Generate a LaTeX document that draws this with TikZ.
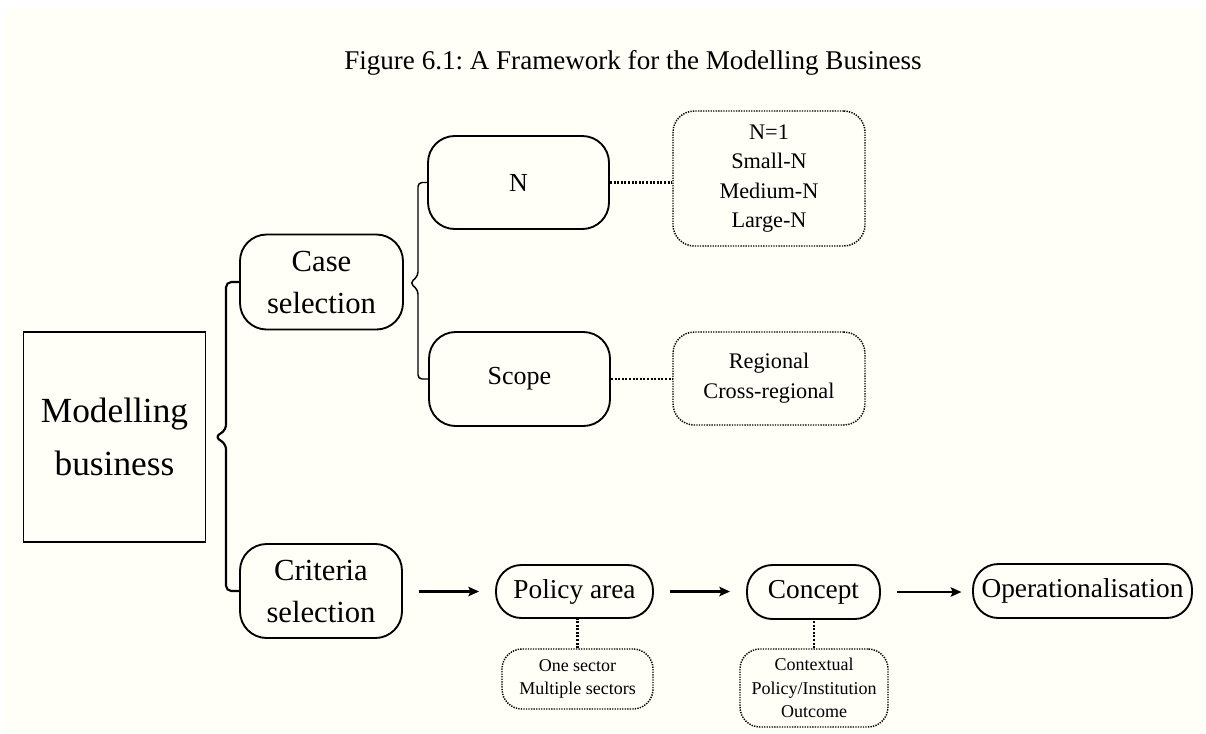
\documentclass[tikz,border=0pt]{standalone}
\usepackage{fontspec}
\setmainfont{Liberation Serif}
\usetikzlibrary{positioning,arrows.meta}
\definecolor{paper}{RGB}{255,254,247}
\newcommand{\fsz}[2]{\fontsize{#1}{#2}\selectfont}
\frenchspacing

\begin{document}
\begin{tikzpicture}[x=0.75pt,y=-0.75pt,>={Stealth[length=8pt,width=7pt,inset=1.5pt]},
  solidbox/.style={draw,line width=1.4pt,rounded corners=20pt,align=center,inner sep=0pt},
  pillbox/.style={draw,line width=1.4pt,rounded corners=19pt,align=center,inner sep=0pt,font=\fsz{20.5}{24}},
  dotbox/.style={draw,line width=1.1pt,dash pattern=on 1pt off 0.9pt,rounded corners=16pt,align=center,inner sep=0pt},
  dotline/.style={line width=1.9pt,dash pattern=on 1.5pt off 1.2pt},
  brace/.style={line width=1.6pt,rounded corners=4pt},
  flow/.style={->,line width=1.9pt,shorten <=12pt,shorten >=12pt}]
\useasboundingbox (0,0) rectangle (1206,733);
\fill[white] (0,0) rectangle (1206,733);
\fill[paper] (5,9) rectangle (1203,733);

% title
\node[anchor=base,font=\fsz{20.3}{24}] (title) at (633,69) {Figure 6.1: A Framework for the Modelling Business};

% left part
\node[draw,line width=1.1pt,minimum width=136.5pt,minimum height=157.5pt,align=center,font=\fsz{26.5}{40}] (model) at (114.5,437) {Modelling\\business};
\node[solidbox,minimum width=122.25pt,minimum height=71.25pt,font=\fsz{23}{31.5}] (case) at (321.5,282) {Case\\selection};
\node[solidbox,minimum width=121.5pt,minimum height=70.5pt,font=\fsz{23}{31.5}] (crit) at (321,591) {Criteria\\selection};

% case selection branch
\node[solidbox,minimum width=135.75pt,minimum height=69.75pt,font=\fsz{19.5}{23}] (nsize) at (518.5,182.5) {N};
\node[solidbox,minimum width=135.75pt,minimum height=70.5pt,font=\fsz{19.5}{23}] (scope) at (519.5,379) {Scope};
\node[dotbox,minimum width=144pt,minimum height=101.25pt,font=\fsz{16.7}{22}] (nlist) at (769,178.5) {N=1\\Small-N\\Medium-N\\Large-N};
\node[dotbox,minimum width=144pt,minimum height=69.75pt,font=\fsz{16.7}{22.5}] (scopelist) at (769,378.5) {Regional\\Cross-regional};

% criteria selection branch
\node[pillbox,minimum width=117.75pt,minimum height=39.75pt] (policy) at (574.5,591.5) {Policy area};
\node[pillbox,minimum width=99.75pt,minimum height=40.5pt] (concept) at (813.5,592) {Concept};
\node[pillbox,minimum width=164.25pt,minimum height=40.5pt] (oper) at (1082.5,591) {Operationalisation};
\node[dotbox,rounded corners=15pt,minimum width=113.25pt,minimum height=45pt,font=\fsz{13.5}{17.4}] (sectors) at (577.5,679) {One sector\\Multiple sectors};
\node[dotbox,rounded corners=15pt,minimum width=111pt,minimum height=58.5pt,font=\fsz{13.5}{17.4}] (levels) at (814,688) {Contextual\\Policy/Institution\\Outcome};

% braces
\draw[brace] (case.west) -- (226,282) -- (226,430) -- (215,437) -- (226,444) -- (226,591) -- (crit.west);
\draw[brace,line width=1.1pt,rounded corners=3pt] (nsize.west) -- (418,182.5) -- (418,276) -- (410,283) -- (418,290) -- (418,379) -- (scope.west);

% connectors
\draw[dotline] (nsize.east) -- (nsize.east -| nlist.west);
\draw[dotline] (scope.east) -- (scope.east -| scopelist.west);
\draw[dotline] (sectors.north) -- (sectors.north |- policy.south);
\draw[dotline] (levels.north) -- (levels.north |- concept.south);
\draw[flow] (crit.east |- policy.west) -- (policy.west);
\draw[flow] (policy.east) -- (policy.east -| concept.west);
\draw[flow,shorten >=8pt] (concept.east) -- (concept.east -| oper.west);
\end{tikzpicture}
\end{document}
